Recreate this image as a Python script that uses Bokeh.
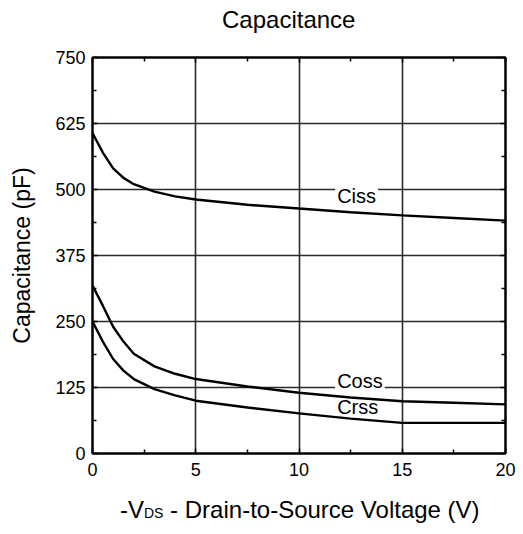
from bokeh.plotting import figure
from bokeh.models import (FixedTicker, LinearAxis, Label, Range1d, Grid,
                          CustomJSTickFormatter, Div)
from bokeh.layouts import column
from bokeh.embed import file_html
from bokeh.resources import INLINE

# ---- data ----
vds = [0, 0.5, 1, 1.5, 2, 3, 4, 5, 7.5, 10, 12.5, 15, 17.5, 20]
ciss = [607, 570, 540, 522, 510, 496, 487, 481, 471, 464, 457, 451, 446, 441]
coss = [318, 280, 240, 212, 189, 165, 151, 141, 127, 115, 106, 99, 96, 93]
crss = [250, 212, 179, 157, 141, 122, 110, 100, 87, 76, 66, 58, 58, 58]
series_names = ["Ciss", "Coss", "Crss"]
x_ticks = [0, 5, 10, 15, 20]
x_minor = [2.5, 7.5, 12.5, 17.5]
y_ticks = [0, 125, 250, 375, 500, 625, 750]
y_minor = [62.5, 187.5, 312.5, 437.5, 562.5, 687.5]
chart_title = "Capacitance"
y_title = "Capacitance (pF)"
x_title_parts = ["-V", "DS", " - Drain-to-Source Voltage (V)"]

FONT = "Liberation Sans"

title_div = Div(text=chart_title, width=515, height=40, margin=0,
                styles={"font-family": FONT, "font-size": "24px", "line-height": "24px",
                        "color": "black", "white-space": "nowrap",
                        "padding-left": "222px", "padding-top": "8px"})

p = figure(width=515, height=450, x_range=Range1d(0, 20), y_range=Range1d(0, 750),
           x_axis_type=None, y_axis_type=None, title=None,
           output_backend="svg", toolbar_location=None,
           min_border_left=92, min_border_right=10, min_border_top=17, min_border_bottom=37)
p.background_fill_color = "white"
p.border_fill_color = "white"
p.outline_line_color = "black"
p.outline_line_width = 2


def style_axis(ax, ticks, minor, show_labels=True):
    ax.ticker = FixedTicker(ticks=ticks, minor_ticks=minor)
    ax.axis_line_color = "black"
    ax.axis_line_width = 2
    ax.major_tick_in = 5
    ax.major_tick_out = 0
    ax.minor_tick_in = 4
    ax.minor_tick_out = 0
    ax.major_tick_line_color = "black"
    ax.minor_tick_line_color = "black"
    ax.major_tick_line_width = 1.5
    ax.minor_tick_line_width = 1.5
    ax.major_label_text_font = FONT
    ax.major_label_text_color = "black"
    if show_labels:
        ax.major_label_text_font_size = "18px"
    else:
        ax.formatter = CustomJSTickFormatter(code="return ''")
        ax.major_label_text_font_size = "1px"
        ax.major_label_standoff = 0


left = LinearAxis()
style_axis(left, y_ticks, y_minor)
left.major_label_standoff = 7
left.axis_label = y_title
left.axis_label_text_font = FONT
left.axis_label_text_font_size = "23px"
left.axis_label_text_font_style = "normal"
left.axis_label_text_color = "black"
left.axis_label_standoff = 17
p.add_layout(left, "left")

bottom = LinearAxis()
style_axis(bottom, x_ticks, x_minor)
bottom.major_label_standoff = 9
p.add_layout(bottom, "below")

right = LinearAxis()
style_axis(right, y_ticks, y_minor, show_labels=False)
p.add_layout(right, "right")

top = LinearAxis()
style_axis(top, x_ticks, x_minor, show_labels=False)
p.add_layout(top, "above")

p.add_layout(Grid(dimension=0, ticker=FixedTicker(ticks=x_ticks),
                  grid_line_color="#2a2a2a", grid_line_width=1.6))
p.add_layout(Grid(dimension=1, ticker=FixedTicker(ticks=y_ticks),
                  grid_line_color="#2a2a2a", grid_line_width=1.6))

for ys in (ciss, coss, crss):
    p.line(vds, ys, line_color="black", line_width=2.4)

# series labels
label_pos = {"Ciss": (11.75, 488, True), "Coss": (11.75, 138, True), "Crss": (11.75, 89, False)}
for name in series_names:
    lx, ly, bg = label_pos[name]
    p.add_layout(Label(x=lx, y=ly, text=name, text_font=FONT, text_font_size="20px",
                       text_color="black", text_baseline="middle", text_align="left",
                       background_fill_color="white" if bg else None,
                       padding=2))

# x axis title with small "DS"
xt_html = (f"{x_title_parts[0]}<span style='font-size:14px'>{x_title_parts[1]}</span>"
           f"{x_title_parts[2]}")
xdiv = Div(text=xt_html, width=515, height=40, margin=0,
           styles={"font-family": FONT, "font-size": "24px", "line-height": "24px",
                   "color": "black", "white-space": "nowrap",
                   "padding-left": "120px", "padding-top": "8px"})

layout = column(title_div, p, xdiv, spacing=0)
open("out.html", "w").write(file_html(layout, INLINE))
